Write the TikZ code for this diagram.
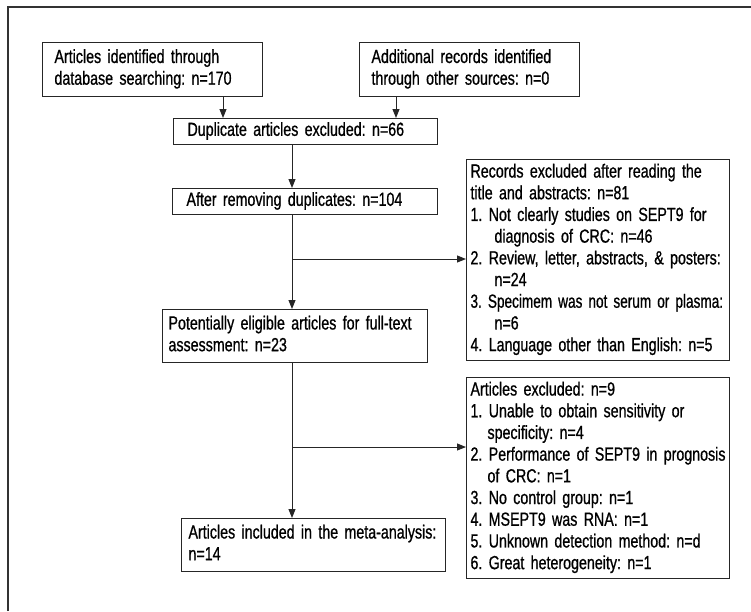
\documentclass[tikz,border=0pt]{standalone}
\usepackage{graphicx}
\usepackage{fontspec}
\setmainfont{Liberation Sans}[FakeStretch=0.75,FakeBold=0.8]
\usetikzlibrary{arrows.meta}
\newcommand\boxlines[1]{\begin{tabular}{@{}l@{}}#1\end{tabular}}
\newcommand\squeezeline[1]{\scalebox{0.955}[1]{#1}}
\begin{document}
\frenchspacing
\begin{tikzpicture}[x=1pt,y=-1pt,
  box/.style={draw=black!85, line width=1pt, rectangle, anchor=north west,
    align=left, font=\fontsize{19}{21.7}\selectfont\frenchspacing, inner ysep=0pt},
  arr/.style={draw=black!85, line width=1pt, -{Triangle[length=9pt,width=7pt]}},
  frame/.style={draw=black!80, line width=1.1pt}]
\useasboundingbox (0,0) rectangle (751,611);
\draw[frame] (8,611) -- (8,7) -- (751,7);

\node[box, minimum width=220pt, minimum height=54pt, text width=196pt, inner xsep=12pt] (A) at (42,42)
  {\boxlines{Articles identified through\\database searching: n=170}};
\node[box, minimum width=220pt, minimum height=54pt, text width=196pt, inner xsep=12pt] (B) at (359,42)
  {\boxlines{Additional records identified\\through other sources: n=0}};
\node[box, minimum width=264pt, minimum height=26pt, text width=236pt, inner xsep=14pt] (Dup) at (173,118)
  {\boxlines{Duplicate articles excluded: n=66}};
\node[box, minimum width=265pt, minimum height=26pt, text width=237pt, inner xsep=14pt] (After) at (172,188)
  {\boxlines{After removing duplicates: n=104}};
\node[box, minimum width=263pt, minimum height=201pt, text width=255pt, inner xsep=4pt] (Rec) at (466,159)
  {\boxlines{Records excluded after reading the\\
   title and abstracts: n=81\\
   1. Not clearly studies on SEPT9 for\\
   \hspace*{24pt}diagnosis of CRC: n=46\\
   2. Review, letter, abstracts, \& posters:\\
   \hspace*{24pt}n=24\\
   \squeezeline{3. Specimem was not serum or plasma:}\\
   \hspace*{24pt}n=6\\
   4. Language other than English: n=5}};
\node[box, minimum width=265pt, minimum height=53pt, text width=253pt, inner xsep=6pt] (Pot) at (162,309)
  {\boxlines{Potentially eligible articles for full-text\\assessment: n=23}};
\node[box, minimum width=263pt, minimum height=201pt, text width=255pt, inner xsep=4pt] (Exc) at (466,377)
  {\boxlines{Articles excluded: n=9\\
   1. Unable to obtain sensitivity or\\
   \hspace*{17pt}specificity: n=4\\
   2. Performance of SEPT9 in prognosis\\
   \hspace*{17pt}of CRC: n=1\\
   3. No control group: n=1\\
   4. MSEPT9 was RNA: n=1\\
   5. Unknown detection method: n=d\\
   6. Great heterogeneity: n=1}};
\node[box, minimum width=264pt, minimum height=53pt, text width=250pt, inner xsep=7pt] (Inc) at (181,518)
  {\boxlines{Articles included in the meta-analysis:\\n=14}};

\coordinate (xa) at (223,0);
\coordinate (xb) at (396,0);
\coordinate (xm) at (292,0);
\coordinate (b1) at (292,259);
\coordinate (b2) at (292,447);

\draw[arr] (A.south -| xa) -- (Dup.north -| xa);
\draw[arr] (B.south -| xb) -- (Dup.north -| xb);
\draw[arr] (Dup.south -| xm) -- (After.north -| xm);
\draw[arr] (After.south -| xm) -- (Pot.north -| xm);
\draw[arr] (b1) -- (Rec.west |- b1);
\draw[arr] (Pot.south -| xm) -- (Inc.north -| xm);
\draw[arr] (b2) -- (Exc.west |- b2);
\end{tikzpicture}
\end{document}
